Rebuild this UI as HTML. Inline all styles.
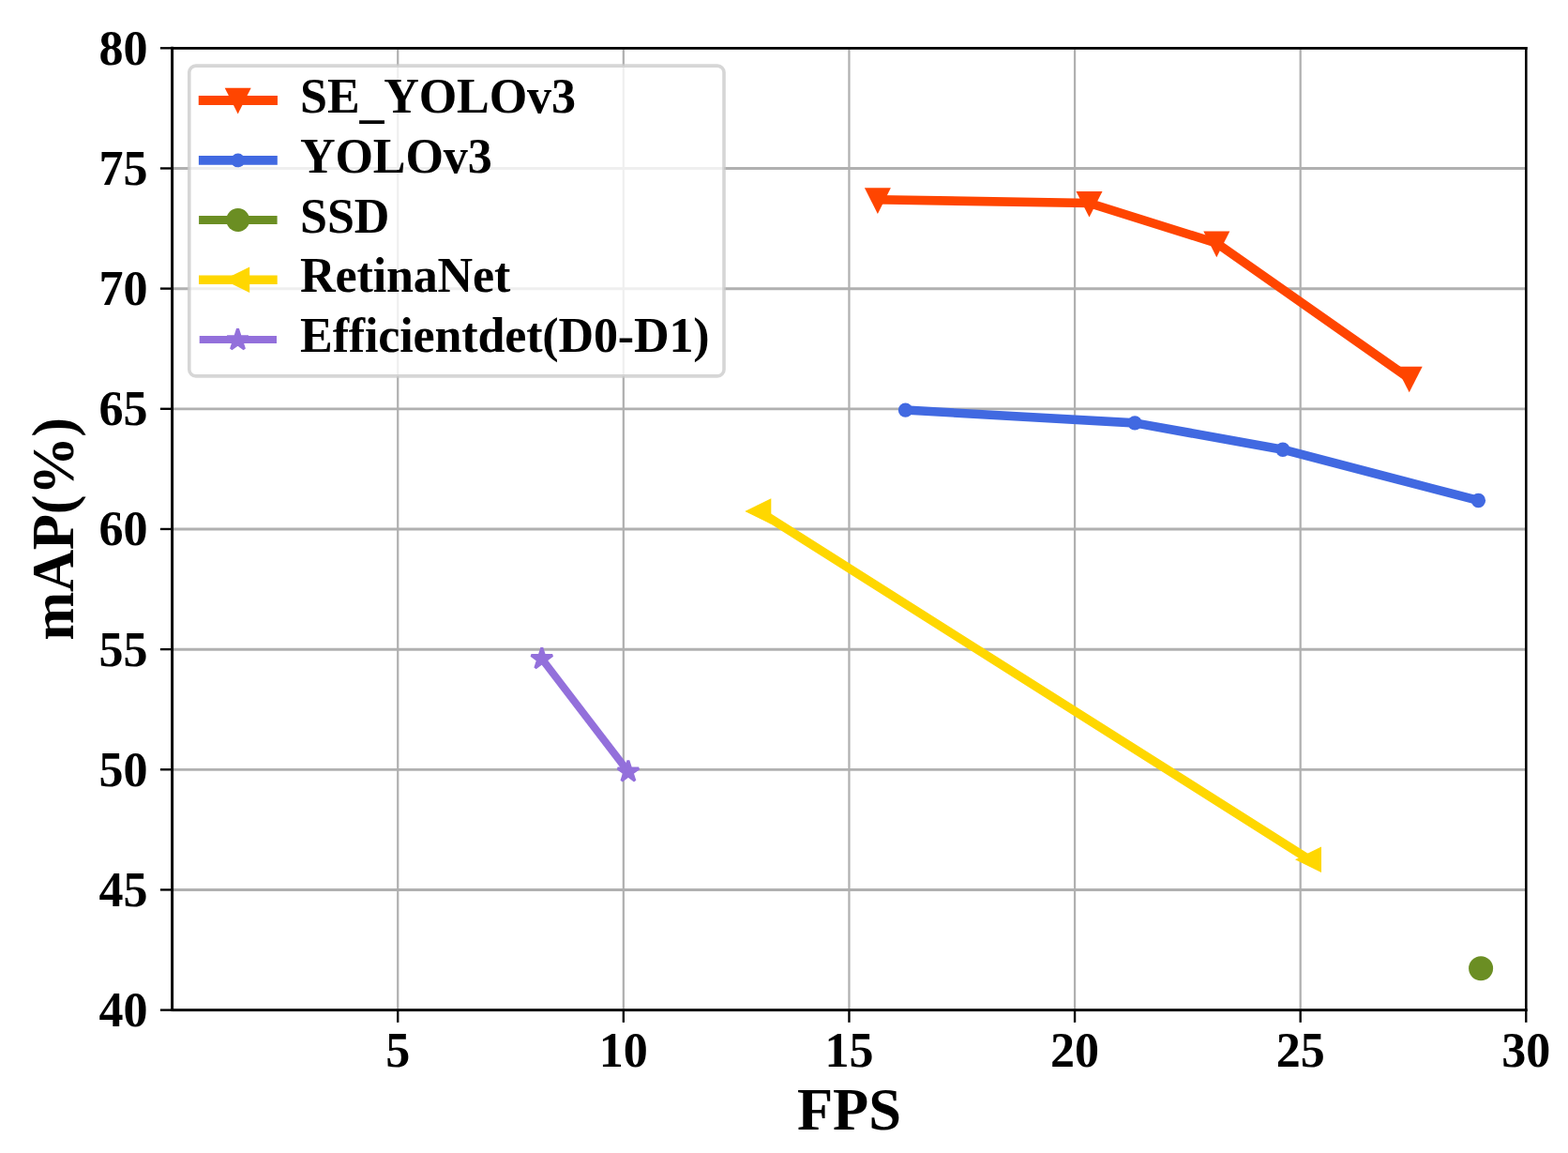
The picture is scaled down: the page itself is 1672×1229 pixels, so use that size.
<!DOCTYPE html>
<html lang="en">
<head>
<meta charset="utf-8">
<title>mAP vs FPS</title>
<style>
html,body{margin:0;padding:0;background:#fff;}
body{width:1672px;height:1229px;overflow:hidden;}
svg{display:block;}
text{font-family:"Liberation Serif", "Times New Roman", Times, serif;font-weight:bold;fill:#000;}
.tk{font-size:52.08px;}
.lb{font-size:62.50px;}
.lg{letter-spacing:-0.17px;}
</style>
</head>
<body>
<svg width="1672" height="1229" viewBox="0 0 1672 1229">
<rect x="0" y="0" width="1672" height="1229" fill="#ffffff"/>
<g stroke="#b0b0b0" stroke-width="2.35" fill="none">
<line x1="424.22" y1="51.30" x2="424.22" y2="1076.60" stroke-width="2.25"/>
<line x1="664.83" y1="51.30" x2="664.83" y2="1076.60" stroke-width="2.25"/>
<line x1="905.45" y1="51.30" x2="905.45" y2="1076.60" stroke-width="2.25"/>
<line x1="1146.07" y1="51.30" x2="1146.07" y2="1076.60" stroke-width="2.25"/>
<line x1="1386.68" y1="51.30" x2="1386.68" y2="1076.60" stroke-width="2.25"/>
<line x1="1627.30" y1="51.30" x2="1627.30" y2="1076.60" stroke-width="2.25"/>
<line x1="183.60" y1="1076.70" x2="1627.30" y2="1076.70" stroke-width="2.9"/>
<line x1="183.60" y1="948.54" x2="1627.30" y2="948.54" stroke-width="2.9"/>
<line x1="183.60" y1="820.38" x2="1627.30" y2="820.38" stroke-width="2.9"/>
<line x1="183.60" y1="692.21" x2="1627.30" y2="692.21" stroke-width="2.9"/>
<line x1="183.60" y1="564.05" x2="1627.30" y2="564.05" stroke-width="2.9"/>
<line x1="183.60" y1="435.89" x2="1627.30" y2="435.89" stroke-width="2.9"/>
<line x1="183.60" y1="307.73" x2="1627.30" y2="307.73" stroke-width="2.9"/>
<line x1="183.60" y1="179.56" x2="1627.30" y2="179.56" stroke-width="2.9"/>
<line x1="183.60" y1="51.40" x2="1627.30" y2="51.40" stroke-width="2.9"/>
</g>
<g>
<polyline points="935.90,212.80 1161.50,216.50 1297.30,259.10 1502.70,403.20" fill="none" stroke="#ff4500" stroke-width="9.60" stroke-linecap="square" stroke-linejoin="round"/>
<path d="M921.90 200.30 L949.90 200.30 L935.90 227.90 Z" fill="#ff4500"/>
<path d="M1147.50 204.00 L1175.50 204.00 L1161.50 231.60 Z" fill="#ff4500"/>
<path d="M1283.30 246.60 L1311.30 246.60 L1297.30 274.20 Z" fill="#ff4500"/>
<path d="M1488.70 390.70 L1516.70 390.70 L1502.70 418.30 Z" fill="#ff4500"/>
</g>
<g>
<polyline points="965.50,437.10 1210.10,450.90 1367.90,479.20 1576.40,533.50" fill="none" stroke="#4169e1" stroke-width="9.60" stroke-linecap="square" stroke-linejoin="round"/>
<circle cx="965.50" cy="437.10" r="7.70" fill="#4169e1"/>
<circle cx="1210.10" cy="450.90" r="7.70" fill="#4169e1"/>
<circle cx="1367.90" cy="479.20" r="7.70" fill="#4169e1"/>
<circle cx="1576.40" cy="533.50" r="7.70" fill="#4169e1"/>
</g>
<g>
<circle cx="1579.10" cy="1032.30" r="13.00" fill="#6b8e23"/>
</g>
<g>
<polyline points="809.40,545.00 1396.10,916.20" fill="none" stroke="#ffd700" stroke-width="9.40" stroke-linecap="square" stroke-linejoin="round"/>
<path d="M822.30 531.20 L822.30 558.80 L794.30 545.00 Z" fill="#ffd700"/>
<path d="M1409.00 902.40 L1409.00 930.00 L1381.00 916.20 Z" fill="#ffd700"/>
</g>
<g>
<polyline points="577.80,702.30 669.90,822.60" fill="none" stroke="#9370db" stroke-width="8.00" stroke-linecap="square" stroke-linejoin="round"/>
<path d="M577.80 690.40 L575.13 698.62 L566.48 698.62 L573.48 703.70 L570.81 711.93 L577.80 706.85 L584.79 711.93 L582.12 703.70 L589.12 698.62 L580.47 698.62 Z" fill="#9370db" stroke="#9370db" stroke-width="3.0" stroke-linejoin="miter" stroke-miterlimit="3"/>
<path d="M669.90 810.70 L667.23 818.92 L658.58 818.92 L665.58 824.00 L662.91 832.23 L669.90 827.15 L676.89 832.23 L674.22 824.00 L681.22 818.92 L672.57 818.92 Z" fill="#9370db" stroke="#9370db" stroke-width="3.0" stroke-linejoin="miter" stroke-miterlimit="3"/>
</g>
<g stroke="#000" stroke-width="2.65" fill="none" stroke-linecap="square">
<line x1="183.60" y1="51.30" x2="1627.30" y2="51.30"/>
<line x1="183.60" y1="1076.60" x2="1627.30" y2="1076.60"/>
<line x1="183.60" y1="51.30" x2="183.60" y2="1076.60" stroke-width="2.95"/>
<line x1="1627.30" y1="51.30" x2="1627.30" y2="1076.60" stroke-width="2.5"/>
</g>
<g stroke="#000" stroke-width="2.35" fill="none">
<line x1="424.22" y1="1076.60" x2="424.22" y2="1089.83"/>
<line x1="664.83" y1="1076.60" x2="664.83" y2="1089.83"/>
<line x1="905.45" y1="1076.60" x2="905.45" y2="1089.83"/>
<line x1="1146.07" y1="1076.60" x2="1146.07" y2="1089.83"/>
<line x1="1386.68" y1="1076.60" x2="1386.68" y2="1089.83"/>
<line x1="1627.30" y1="1076.60" x2="1627.30" y2="1089.83"/>
<line x1="170.88" y1="1076.60" x2="183.60" y2="1076.60"/>
<line x1="170.88" y1="948.44" x2="183.60" y2="948.44"/>
<line x1="170.88" y1="820.27" x2="183.60" y2="820.27"/>
<line x1="170.88" y1="692.11" x2="183.60" y2="692.11"/>
<line x1="170.88" y1="563.95" x2="183.60" y2="563.95"/>
<line x1="170.88" y1="435.79" x2="183.60" y2="435.79"/>
<line x1="170.88" y1="307.62" x2="183.60" y2="307.62"/>
<line x1="170.88" y1="179.46" x2="183.60" y2="179.46"/>
<line x1="170.88" y1="51.30" x2="183.60" y2="51.30"/>
</g>
<g class="tk">
<text x="424.22" y="1136.90" text-anchor="middle">5</text>
<text x="664.83" y="1136.90" text-anchor="middle">10</text>
<text x="905.45" y="1136.90" text-anchor="middle">15</text>
<text x="1146.07" y="1136.90" text-anchor="middle">20</text>
<text x="1386.68" y="1136.90" text-anchor="middle">25</text>
<text x="1627.30" y="1136.90" text-anchor="middle">30</text>
<text x="157.60" y="1094.00" text-anchor="end">40</text>
<text x="157.60" y="965.84" text-anchor="end">45</text>
<text x="157.60" y="837.67" text-anchor="end">50</text>
<text x="157.60" y="709.51" text-anchor="end">55</text>
<text x="157.60" y="581.35" text-anchor="end">60</text>
<text x="157.60" y="453.19" text-anchor="end">65</text>
<text x="157.60" y="325.02" text-anchor="end">70</text>
<text x="157.60" y="196.86" text-anchor="end">75</text>
<text x="157.60" y="68.70" text-anchor="end">80</text>
</g>
<text class="lb" x="905.45" y="1203.60" text-anchor="middle">FPS</text>
<text class="lb" style="letter-spacing:-0.35px" transform="translate(77.50 563.95) rotate(-90)" text-anchor="middle">mAP(%)</text>
<g>
<rect x="201.80" y="70.10" width="570.20" height="330.80" rx="7" ry="7" fill="#ffffff" fill-opacity="0.8" stroke="#cccccc" stroke-opacity="0.8" stroke-width="3.6"/>
<line x1="216.70" y1="107.00" x2="291.00" y2="107.00" stroke="#ff4500" stroke-width="9.90" stroke-linecap="square"/>
<path d="M239.70 93.80 L267.70 93.80 L253.70 121.40 Z" fill="#ff4500"/>
<text class="tk lg" x="320.10" y="120.30">SE<tspan dy="4.2">_</tspan><tspan dy="-4.2">YOLOv3</tspan></text>
<line x1="216.70" y1="170.90" x2="291.00" y2="170.90" stroke="#4169e1" stroke-width="9.60" stroke-linecap="square"/>
<circle cx="253.70" cy="170.90" r="7.40" fill="#4169e1"/>
<text class="tk lg" x="320.10" y="183.90">YOLOv3</text>
<line x1="216.70" y1="234.50" x2="291.00" y2="234.50" stroke="#6b8e23" stroke-width="9.20" stroke-linecap="square"/>
<circle cx="253.70" cy="234.50" r="12.50" fill="#6b8e23"/>
<text class="tk lg" x="320.10" y="247.60">SSD</text>
<line x1="216.70" y1="298.30" x2="291.00" y2="298.30" stroke="#ffd700" stroke-width="9.40" stroke-linecap="square"/>
<path d="M266.20 284.50 L266.20 312.10 L238.20 298.30 Z" fill="#ffd700"/>
<text class="tk lg" x="320.10" y="311.30">RetinaNet</text>
<line x1="216.70" y1="361.90" x2="291.00" y2="361.90" stroke="#9370db" stroke-width="8.00" stroke-linecap="square"/>
<path d="M253.50 350.50 L250.83 358.72 L242.18 358.72 L249.18 363.80 L246.51 372.03 L253.50 366.95 L260.49 372.03 L257.82 363.80 L264.82 358.72 L256.17 358.72 Z" fill="#9370db" stroke="#9370db" stroke-width="3.0" stroke-linejoin="miter" stroke-miterlimit="3"/>
<text class="tk lg" x="320.10" y="375.00">Efficientdet(D0-D1)</text>
</g>
</svg>
</body>
</html>
